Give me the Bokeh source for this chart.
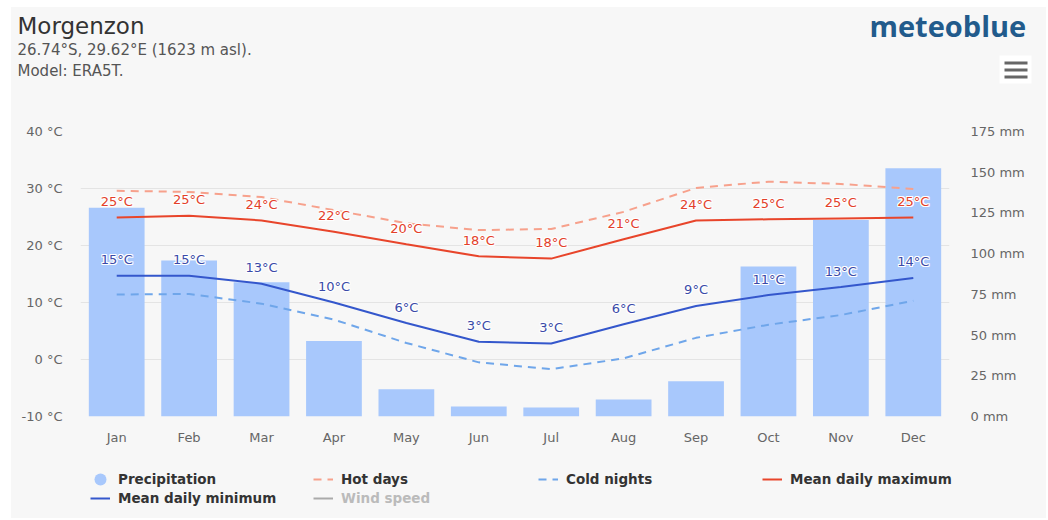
from bokeh.plotting import figure
from bokeh.models import (ColumnDataSource, FactorRange, Range1d, LinearAxis, FixedTicker,
                          Legend, LegendItem, Label, BoxAnnotation, Spacer)
from bokeh.layouts import column, row
from bokeh.embed import file_html
from bokeh.resources import INLINE
from bokeh.core.properties import value

# ---- data ----
months = ["Jan", "Feb", "Mar", "Apr", "May", "Jun", "Jul", "Aug", "Sep", "Oct", "Nov", "Dec"]
precip_mm = [128.2, 95.8, 82.4, 46.4, 16.7, 6.2, 5.6, 10.5, 21.6, 92.1, 120.6, 152.5]
hot_days = [29.6, 29.4, 28.5, 26.2, 23.9, 22.7, 22.9, 25.9, 30.1, 31.2, 30.8, 29.9]
cold_nights = [11.4, 11.5, 9.8, 7.0, 2.9, -0.5, -1.7, 0.2, 3.8, 6.1, 7.8, 10.3]
mean_max = [24.9, 25.2, 24.4, 22.4, 20.2, 18.1, 17.7, 21.1, 24.4, 24.6, 24.75, 24.9]
mean_min = [14.7, 14.7, 13.3, 10.0, 6.4, 3.1, 2.8, 6.2, 9.4, 11.3, 12.7, 14.3]
temp_ticks = [-10, 0, 10, 20, 30, 40]
precip_ticks = [0, 25, 50, 75, 100, 125, 150, 175]

title_text = "Morgenzon"
subtitle_1 = "26.74°S, 29.62°E (1623 m asl)."
subtitle_2 = "Model: ERA5T."
logo_text = "meteoblue"
legend_labels = ["Precipitation", "Hot days", "Cold nights", "Mean daily maximum",
                 "Mean daily minimum", "Wind speed"]

BG = "#f7f7f7"
FONT = "DejaVu Sans"
C_BAR = "#a8c8fc"
C_HOT = "#f7a18c"
C_COLD = "#6fa6ea"
C_MAX = "#e8452b"
C_MIN = "#3457cc"
C_WIND = "#aaaaaa"
W = 1035
TOP_GAP = 7
HDR_H = 114


def bare(fig):
    fig.background_fill_color = BG
    fig.border_fill_color = BG
    fig.outline_line_color = None
    fig.axis.visible = False
    fig.grid.visible = False


src = ColumnDataSource(dict(
    month=months, precip=precip_mm, hot=hot_days, cold=cold_nights,
    tmax=mean_max, tmin=mean_min,
    lmax=[f"{round(v)}°C" for v in mean_max],
    lmin=[f"{round(v)}°C" for v in mean_min],
))

# ---------------- header ----------------
hdr = figure(width=W, height=HDR_H, output_backend="svg", toolbar_location=None,
             x_range=Range1d(0, W), y_range=Range1d(0, HDR_H), frame_align=False,
             min_border=0, min_border_left=0, min_border_right=0,
             min_border_top=0, min_border_bottom=0)
bare(hdr)
hdr.add_layout(Label(x=6, y=96, x_units="screen", y_units="screen", text=title_text,
                     text_font=FONT, text_font_size="23px", text_color="#333333",
                     text_baseline="middle"))
hdr.add_layout(Label(x=6, y=72, x_units="screen", y_units="screen", text=subtitle_1,
                     text_font=FONT, text_font_size="15px", text_color="#555555",
                     text_baseline="middle"))
hdr.add_layout(Label(x=6, y=51, x_units="screen", y_units="screen", text=subtitle_2,
                     text_font=FONT, text_font_size="15px", text_color="#555555",
                     text_baseline="middle"))
hdr.add_layout(Label(x=858, y=96, x_units="screen", y_units="screen", text=logo_text,
                     text_font="Open Sans", text_font_size="29px", text_font_style="bold",
                     text_color="#225b8c", text_align="left", text_baseline="middle"))
hdr.add_layout(BoxAnnotation(left=988, right=1020, top=66, bottom=38,
                             left_units="screen", right_units="screen",
                             top_units="screen", bottom_units="screen",
                             fill_color="white", fill_alpha=1, line_color=None))
for top in (60, 53, 46):
    hdr.add_layout(BoxAnnotation(left=993, right=1016, top=top, bottom=top - 3,
                                 left_units="screen", right_units="screen",
                                 top_units="screen", bottom_units="screen",
                                 fill_color="#666666", fill_alpha=1, line_color=None))

# ---------------- main chart ----------------
p = figure(x_range=FactorRange(*months, range_padding=0),
           y_range=Range1d(temp_ticks[0], temp_ticks[-1]), frame_align=False,
           width=W, height=334, output_backend="svg", toolbar_location=None,
           min_border_left=69, min_border_right=97, min_border_top=10, min_border_bottom=39)
p.background_fill_color = BG
p.border_fill_color = BG
p.outline_line_color = None
p.extra_y_ranges = {"mm": Range1d(precip_ticks[0], precip_ticks[-1])}

p.yaxis.ticker = FixedTicker(ticks=temp_ticks)
p.yaxis.major_label_overrides = {t: f"{t} °C" for t in temp_ticks}

ax_r = LinearAxis(y_range_name="mm", ticker=FixedTicker(ticks=precip_ticks),
                  major_label_overrides={t: f"{t} mm" for t in precip_ticks})
p.add_layout(ax_r, "right")

for ax in (p.yaxis[0], ax_r, p.xaxis[0]):
    ax.axis_line_color = None
    ax.major_tick_line_color = None
    ax.minor_tick_line_color = None
    ax.major_tick_out = 0
    ax.major_tick_in = 0
    ax.major_label_text_font = FONT
    ax.major_label_text_font_size = "13px"
    ax.major_label_text_color = "#666666"
p.yaxis[0].major_label_standoff = 18
ax_r.major_label_standoff = 21
p.xaxis[0].major_label_standoff = 13

p.xgrid.grid_line_color = None
p.ygrid.grid_line_color = "#e4e4e4"
p.ygrid.ticker = FixedTicker(ticks=temp_ticks)

p.vbar(x="month", top="precip", bottom=0, width=0.77, source=src, y_range_name="mm",
       fill_color=C_BAR, line_color=None)
p.line(x="month", y="hot", source=src, line_color=C_HOT, line_width=2, line_dash="8 6")
p.line(x="month", y="cold", source=src, line_color=C_COLD, line_width=2, line_dash="8 6")
p.line(x="month", y="tmax", source=src, line_color=C_MAX, line_width=2)
p.line(x="month", y="tmin", source=src, line_color=C_MIN, line_width=2)

for col, ycol, color in (("lmax", "tmax", "#e3402a"), ("lmin", "tmin", "#3a4aa8")):
    for dx, dy in ((-1, 0), (1, 0), (0, -1), (0, 1), (-1, -1), (1, 1), (-1, 1), (1, -1)):
        p.text(x="month", y=ycol, text=col, source=src, x_offset=dx, y_offset=-16 + dy,
               text_align="center", text_baseline="middle", text_font=value(FONT),
               text_font_size="13px", text_color="white")
    p.text(x="month", y=ycol, text=col, source=src, y_offset=-16,
           text_align="center", text_baseline="middle", text_font=value(FONT),
           text_font_size="13px", text_color=color)

# ---------------- legend ----------------
# the legend strip reuses the series (kept out of its visible y-range) so that
# Bokeh draws the legend symbols from real renderers
lg = figure(width=W, height=63, output_backend="svg", toolbar_location=None,
            x_range=FactorRange(*months, range_padding=0), y_range=Range1d(1000, 1001),
            frame_align=False,
            min_border=0, min_border_left=0, min_border_right=0,
            min_border_top=0, min_border_bottom=0)
bare(lg)
r_prec = lg.scatter(x="month", y="precip", source=src, marker="circle", size=13,
                    fill_color=C_BAR, line_color=None)
r_hot = lg.line(x="month", y="hot", source=src, line_color=C_HOT, line_width=2, line_dash="8 6")
r_cold = lg.line(x="month", y="cold", source=src, line_color=C_COLD, line_width=2, line_dash="8 6")
r_max = lg.line(x="month", y="tmax", source=src, line_color=C_MAX, line_width=2)
r_min = lg.line(x="month", y="tmin", source=src, line_color=C_MIN, line_width=2)
r_wind = lg.line(x="month", y="tmax", source=src, line_color=C_WIND, line_width=2)

common = dict(border_line_color=None, background_fill_alpha=0, padding=0, margin=0,
              spacing=0, label_text_font=FONT, label_text_font_size="13.5px",
              label_text_font_style="bold")

# precipitation: larger glyph box so that the circle symbol is ~12 px across
lg.add_layout(Legend(items=[LegendItem(label=legend_labels[0], renderers=[r_prec])],
                     location=(74, 24), glyph_width=30, glyph_height=30, label_height=30,
                     label_standoff=3, label_text_color="#333333", **common), "center")

positions = [(302, 31), (527, 31), (751, 31), (79, 12), (302, 12)]
rends = [r_hot, r_cold, r_max, r_min, r_wind]
for lab, r, loc in zip(legend_labels[1:], rends, positions):
    leg = Legend(items=[LegendItem(label=lab, renderers=[r])], location=loc,
                 glyph_width=20, glyph_height=14, label_height=14, label_standoff=8,
                 label_text_color="#bbbbbb" if lab == "Wind speed" else "#333333", **common)
    lg.add_layout(leg, "center")

chart = column(hdr, p, lg, styles={"background-color": BG})
layout = row(Spacer(width=11, height=504),
             column(Spacer(width=W, height=TOP_GAP), chart))
open("out.html", "w").write(file_html(layout, INLINE))
